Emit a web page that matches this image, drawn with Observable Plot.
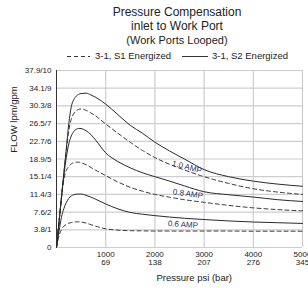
<!DOCTYPE html>
<html><head><meta charset="utf-8">
<script src="https://cdn.jsdelivr.net/npm/d3@7"></script>
<script src="https://cdn.jsdelivr.net/npm/@observablehq/plot@0.6"></script>
<style>
body{margin:0;background:#fff;}
#wrap{position:relative;width:308px;height:288px;overflow:hidden;font-family:"Liberation Sans",Arial,sans-serif;color:#222;}
.t{position:absolute;left:47px;width:260px;text-align:center;white-space:nowrap;}
.lg{position:absolute;top:50px;font-size:9.5px;line-height:12px;white-space:nowrap;}
</style></head><body>
<div id="wrap">
  <div class="t" id="t1" style="top:5px;font-size:12px;line-height:14px"></div>
  <div class="t" id="t2" style="top:19px;font-size:12px;line-height:14px"></div>
  <div class="t" id="t3" style="top:33px;font-size:11px;line-height:14px"></div>
  <svg class="lg" style="left:67px" width="23" height="12"><line x1="0" x2="23" y1="6.5" y2="6.5" stroke="#333" stroke-width="1" stroke-dasharray="4,3"/></svg>
  <div class="lg" id="lg1" style="left:95px"></div>
  <svg class="lg" style="left:182px" width="26" height="12"><line x1="0" x2="26" y1="6.5" y2="6.5" stroke="#333" stroke-width="1"/></svg>
  <div class="lg" id="lg2" style="left:212px"></div>
  <div id="chart" style="position:absolute;left:0;top:62px"></div>
</div>
<script>
const titleLines = ["Pressure Compensation", "inlet to Work Port", "(Work Ports Looped)"];
const seriesNames = ["3-1, S1 Energized", "3-1, S2 Energized"];
const xTitle = "Pressure psi (bar)";
const yTitle = "FLOW lpm/gpm";

const xTicks = [1000, 2000, 3000, 4000, 5000];
const xBar = ["69", "138", "207", "276", "345"];
const yTicks = [0, 1, 2, 3, 4, 5, 6, 7, 8, 9, 10];
const yLabels = ["0", "3.8/1", "7.6/2", "11.4/3", "15.1/4", "18.9/5", "22.7/6", "26.5/7", "30.3/8", "34.1/9", "37.9/10"];

const psi = [0, 50, 100, 150, 200, 250, 300, 350, 400, 450, 500, 600, 700, 800, 1000, 1250, 1500, 1750, 2000, 2300, 2600, 3000, 3500, 4000, 4500, 5000];
// S2 energized (solid)
const s2_10 = [0, 1.4, 2.8, 4.2, 5.6, 7.0, 7.95, 8.35, 8.55, 8.65, 8.7, 8.72, 8.62, 8.48, 8.1, 7.5, 6.9, 6.45, 5.95, 5.45, 5.0, 4.4, 4.0, 3.75, 3.58, 3.46];
const s2_08 = [0, 1.4, 2.8, 4.1, 5.1, 5.85, 6.3, 6.55, 6.68, 6.73, 6.72, 6.6, 6.38, 6.05, 5.35, 4.85, 4.5, 4.22, 4.0, 3.75, 3.48, 3.15, 2.98, 2.85, 2.7, 2.6];
const s2_06 = [0, 0.9, 1.7, 2.2, 2.55, 2.78, 2.91, 2.98, 3.01, 3.02, 3.02, 2.95, 2.85, 2.72, 2.46, 2.18, 1.98, 1.88, 1.8, 1.72, 1.65, 1.58, 1.5, 1.44, 1.4, 1.36];
// S1 energized (dashed)
const s1_10 = [0, 1.4, 2.8, 4.2, 5.5, 6.6, 7.25, 7.55, 7.72, 7.8, 7.83, 7.75, 7.6, 7.42, 6.98, 6.45, 5.94, 5.48, 5.08, 4.7, 4.38, 4.0, 3.62, 3.32, 3.13, 3.0];
const s1_08 = [0, 1.4, 2.8, 3.85, 4.35, 4.58, 4.72, 4.79, 4.82, 4.82, 4.78, 4.68, 4.52, 4.36, 4.06, 3.7, 3.4, 3.18, 3.0, 2.84, 2.7, 2.55, 2.38, 2.24, 2.14, 2.07];
const s1_06 = [0, 0.65, 1.0, 1.2, 1.3, 1.37, 1.41, 1.44, 1.45, 1.45, 1.44, 1.38, 1.29, 1.2, 1.06, 0.98, 0.95, 0.94, 0.93, 0.93, 0.93, 0.93, 0.93, 0.92, 0.92, 0.92];

const ampText = ["1.0 AMP", "0.8 AMP", "0.6 AMP"];
const ampPsi = [2650, 2670, 2570];
const ampGpm = [4.55, 3.03, 1.3];
const ampAngle = [15, 8, 4];

document.getElementById("t1").textContent = titleLines[0];
document.getElementById("t2").textContent = titleLines[1];
document.getElementById("t3").textContent = titleLines[2];
document.getElementById("lg1").textContent = seriesNames[0];
document.getElementById("lg2").textContent = seriesNames[1];

const mk = (arr, key) => arr.map((v, i) => ({psi: psi[i], gpm: v, key}));
const solid = [...mk(s2_10, "1.0"), ...mk(s2_08, "0.8"), ...mk(s2_06, "0.6")];
const dashed = [...mk(s1_10, "1.0"), ...mk(s1_08, "0.8"), ...mk(s1_06, "0.6")];
const labels = ampText.map((t, i) => ({t, x: ampPsi[i], y: ampGpm[i], r: ampAngle[i]}));

const gridColor = "#cdcdcd";
const chart = Plot.plot({
  width: 308, height: 226,
  marginTop: 8, marginBottom: 41, marginLeft: 56, marginRight: 6,
  style: {fontFamily: "'Liberation Sans', Arial, sans-serif", fontSize: "8px", color: "#222", background: "transparent"},
  x: {domain: [0, 5000], ticks: xTicks, tickSize: 0, tickPadding: 4, label: null,
      tickFormat: d => d + "\n" + xBar[xTicks.indexOf(d)]},
  y: {domain: [0, 10], ticks: yTicks, tickSize: 0, tickPadding: 5, label: null,
      tickFormat: d => yLabels[yTicks.indexOf(d)]},
  marks: [
    Plot.ruleY(yTicks, {stroke: gridColor, strokeWidth: 1.2}),
    Plot.ruleX(xTicks, {stroke: gridColor, strokeWidth: 1.2}),
    Plot.ruleX([0], {stroke: "#333", strokeWidth: 1}),
    Plot.line(dashed, {x: "psi", y: "gpm", z: "key", stroke: "#3a3a3a", strokeWidth: 1, strokeDasharray: "4,3", curve: "monotone-x"}),
    Plot.line(solid, {x: "psi", y: "gpm", z: "key", stroke: "#2a2a2a", strokeWidth: 1, curve: "monotone-x"}),
    Plot.text(labels, {x: "x", y: "y", text: "t", rotate: "r", fill: "#26346e", fontSize: 8}),
    Plot.text([xTitle], {x: 2800, frameAnchor: "bottom", dy: 33, fontSize: 9.5, fill: "#222"}),
    Plot.text([yTitle], {y: 5.35, frameAnchor: "left", dx: -42.5, rotate: -90, fontSize: 9.5, fill: "#222"})
  ]
});
document.getElementById("chart").appendChild(chart);
</script>
</body></html>
